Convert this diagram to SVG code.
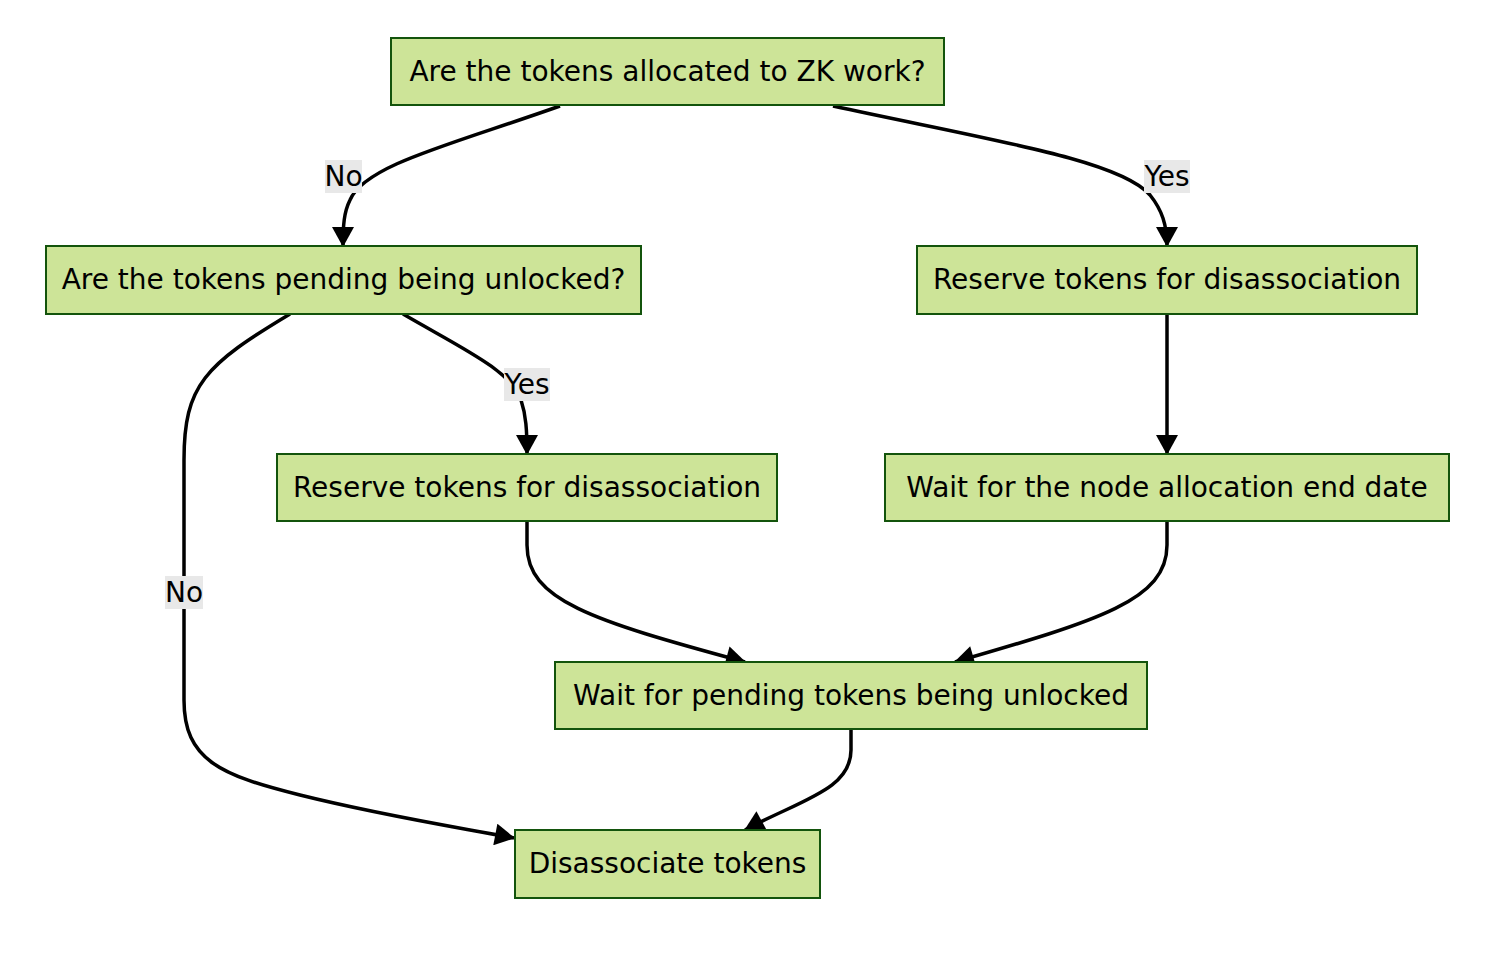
<svg xmlns="http://www.w3.org/2000/svg" width="1496" height="956" viewBox="0 0 1496 956">
<style>
.node rect{fill:#cde498;stroke:#13540c;stroke-width:2}
.node text{font-family:"DejaVu Sans",Verdana,sans-serif;font-size:28px;fill:#000;text-anchor:middle;dominant-baseline:central}
.edge{fill:none;stroke:#000;stroke-width:3.5}
.lbl rect{fill:#e8e8e8}
.lbl text{font-family:"DejaVu Sans",Verdana,sans-serif;font-size:28px;fill:#000;text-anchor:middle;dominant-baseline:central}
</style>
<defs>
<marker id="ah" markerUnits="userSpaceOnUse" markerWidth="22" markerHeight="22" viewBox="0 0 20 22" refX="19" refY="11" orient="auto">
<path d="M0,0 L20,11 L0,22 z" fill="#000"/>
</marker>
</defs>
<rect width="1496" height="956" fill="#fff"/>
<g id="connectors">
<path class="edge" marker-end="url(#ah)" d="M560,106 C450,145 365,165 350,200 C344,212 343,225 343,246"/>
<path class="edge" marker-end="url(#ah)" d="M833,106 C990,140 1120,160 1150,195 C1162,210 1167,225 1167,246"/>
<path class="edge" marker-end="url(#ah)" d="M403,314 C465,350 510,370 521,400 C526,415 527,430 527,454"/>
<path class="edge" marker-end="url(#ah)" d="M290,314 C205,365 184,385 184,460 L184,700 C184,760 220,775 300,795 C380,815 450,826 514,838"/>
<path class="edge" marker-end="url(#ah)" d="M1167,314 L1167,454"/>
<path class="edge" marker-end="url(#ah)" d="M527,521 L527,545 C527,600 590,620 745,662"/>
<path class="edge" marker-end="url(#ah)" d="M1167,521 L1167,545 C1167,600 1100,620 955,662"/>
<path class="edge" marker-end="url(#ah)" d="M851,729 L851,750 C851,790 800,800 745,830"/>
<g class="lbl"><rect x="325" y="160" width="37" height="33"/><text x="343.5" y="176">No</text></g>
<g class="lbl"><rect x="1144" y="160" width="46" height="33"/><text x="1167" y="176">Yes</text></g>
<g class="lbl"><rect x="504" y="368" width="46" height="33"/><text x="527" y="384">Yes</text></g>
<g class="lbl"><rect x="165" y="576" width="38" height="33"/><text x="184" y="592">No</text></g>
</g>
<g id="n1" class="node"><rect x="391" y="38" width="553" height="67"/><text x="667.5" y="71">Are the tokens allocated to ZK work?</text></g>
<g id="n2" class="node"><rect x="46" y="246" width="595" height="68"/><text x="343.5" y="279">Are the tokens pending being unlocked?</text></g>
<g id="n3" class="node"><rect x="917" y="246" width="500" height="68"/><text x="1167" y="279">Reserve tokens for disassociation</text></g>
<g id="n4" class="node"><rect x="277" y="454" width="500" height="67"/><text x="527" y="487">Reserve tokens for disassociation</text></g>
<g id="n5" class="node"><rect x="885" y="454" width="564" height="67"/><text x="1167" y="487">Wait for the node allocation end date</text></g>
<g id="n6" class="node"><rect x="555" y="662" width="592" height="67"/><text x="851" y="695">Wait for pending tokens being unlocked</text></g>
<g id="n7" class="node"><rect x="515" y="830" width="305" height="68"/><text x="667.5" y="863">Disassociate tokens</text></g>
</svg>
